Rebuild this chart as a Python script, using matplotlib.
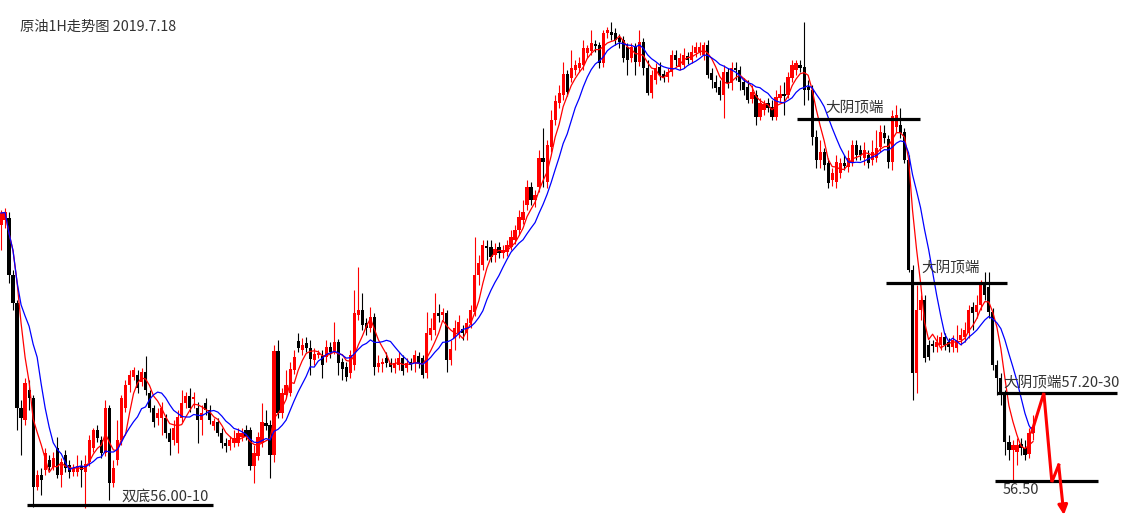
import matplotlib
matplotlib.use("Agg")
import matplotlib.pyplot as plt
import numpy as np
import pandas as pd

plt.rcParams['font.family'] = ['Noto Sans CJK SC', 'DejaVu Sans']

# hourly candles
opens = [
    58.80, 58.85, 58.87, 58.30, 58.02, 56.97, 56.85, 57.15, 57.07, 56.18,
    56.30, 56.35, 56.45, 56.38, 56.57, 56.30, 56.50, 56.40, 56.33, 56.33,
    56.39, 56.33, 56.43, 56.57, 56.75, 56.65, 56.52, 56.97, 56.22, 56.45,
    56.65, 56.97, 57.20, 57.28, 57.30, 57.23, 57.33, 57.12, 56.97, 56.87,
    56.87, 56.87, 56.72, 56.65, 56.62, 56.87, 57.02, 57.09, 57.06, 56.97,
    56.85, 57.02, 56.95, 56.79, 56.83, 56.72, 56.62, 56.59, 56.62, 56.62,
    56.68, 56.75, 56.75, 56.39, 56.49, 56.62, 56.82, 56.80, 56.50, 57.54,
    56.92, 57.10, 57.12, 57.35, 57.64, 57.55, 57.62, 57.57, 57.45, 57.50,
    57.49, 57.48, 57.58, 57.54, 57.63, 57.43, 57.38, 57.32, 57.40, 57.90,
    57.95, 57.82, 57.77, 57.88, 57.38, 57.41, 57.47, 57.42, 57.37, 57.40,
    57.47, 57.37, 57.43, 57.42, 57.49, 57.47, 57.32, 57.70, 57.75, 57.92,
    57.90, 57.92, 57.45, 57.67, 57.72, 57.76, 57.72, 57.82, 57.93, 58.30,
    58.40, 58.59, 58.58, 58.50, 58.58, 58.52, 58.53, 58.58, 58.65, 58.75,
    58.85, 59.00, 59.18, 59.05, 59.18, 59.47, 59.23, 59.58, 59.85, 60.02,
    60.10, 60.31, 60.27, 60.35, 60.37, 60.40, 60.52, 60.54, 60.61, 60.60,
    60.42, 60.72, 60.73, 60.72, 60.67, 60.65, 60.58, 60.47, 60.58, 60.43,
    60.63, 60.37, 60.12, 60.25, 60.38, 60.31, 60.28, 60.33, 60.50, 60.38,
    60.40, 60.49, 60.45, 60.52, 60.53, 60.50, 60.60, 60.32, 60.23, 60.18,
    60.10, 60.33, 60.22, 60.37, 60.35, 60.23, 60.18, 60.06, 60.10, 59.88,
    59.95, 60.02, 59.98, 59.88, 60.07, 60.11, 60.10, 60.27, 60.35, 60.40,
    60.38, 60.18, 60.15, 59.68, 59.45, 59.53, 59.42, 59.25, 59.23, 59.32,
    59.42, 59.38, 59.43, 59.60, 59.55, 59.47, 59.50, 59.45, 59.47, 59.58,
    59.72, 59.66, 59.43, 59.78, 59.80, 59.73, 59.45, 58.35, 57.32, 57.95,
    58.05, 57.60, 57.61, 57.58, 57.60, 57.68, 57.63, 57.58, 57.57, 57.65,
    57.68, 57.72, 57.98, 57.93, 58.00, 58.20, 58.18, 57.93, 57.40, 57.27,
    57.12, 56.63, 56.55, 56.53, 56.61, 56.57, 56.51, 56.72,
]
highs = [
    58.95, 58.97, 58.93, 58.35, 58.05, 57.05, 57.27, 57.25, 57.10, 56.35,
    56.37, 56.57, 56.50, 56.53, 56.68, 56.47, 56.55, 56.45, 56.41, 56.50,
    56.45, 56.50, 56.70, 56.77, 56.80, 56.69, 57.05, 57.00, 56.45, 56.85,
    57.10, 57.25, 57.35, 57.38, 57.35, 57.37, 57.49, 57.15, 57.00, 56.97,
    57.03, 56.91, 56.77, 56.85, 56.95, 57.15, 57.13, 57.17, 57.13, 57.03,
    57.00, 57.07, 57.00, 56.87, 56.87, 56.77, 56.67, 56.69, 56.75, 56.77,
    56.77, 56.80, 56.78, 56.60, 56.73, 57.02, 56.95, 56.85, 57.60, 57.65,
    57.17, 57.35, 57.43, 57.55, 57.72, 57.67, 57.68, 57.65, 57.57, 57.55,
    57.55, 57.65, 57.63, 57.83, 57.66, 57.47, 57.43, 57.55, 58.15, 58.38,
    58.12, 57.87, 57.98, 57.92, 57.50, 57.47, 57.53, 57.47, 57.47, 57.53,
    57.50, 57.47, 57.47, 57.55, 57.53, 57.50, 57.93, 57.87, 58.12, 58.01,
    57.97, 57.95, 57.65, 57.85, 57.90, 57.80, 57.87, 58.00, 58.68, 58.50,
    58.65, 58.65, 58.65, 58.62, 58.63, 58.60, 58.65, 58.75, 58.80, 58.95,
    59.05, 59.25, 59.23, 59.15, 59.55, 59.77, 59.65, 59.95, 60.10, 60.20,
    60.43, 60.35, 60.55, 60.45, 60.48, 60.65, 60.60, 60.75, 60.65, 60.63,
    60.75, 60.78, 60.83, 60.77, 60.71, 60.69, 60.62, 60.62, 60.62, 60.75,
    60.67, 60.45, 60.35, 60.42, 60.43, 60.35, 60.37, 60.55, 60.55, 60.52,
    60.57, 60.53, 60.60, 60.63, 60.63, 60.63, 60.65, 60.37, 60.30, 60.25,
    60.40, 60.37, 60.43, 60.43, 60.39, 60.27, 60.25, 60.20, 60.15, 60.07,
    60.05, 60.07, 60.05, 60.15, 60.20, 60.23, 60.33, 60.45, 60.45, 60.45,
    60.83, 60.25, 60.20, 59.75, 59.65, 59.57, 59.47, 59.37, 59.50, 59.47,
    59.50, 59.55, 59.65, 59.65, 59.60, 59.63, 59.55, 59.65, 59.75, 59.80,
    59.80, 59.70, 59.95, 60.00, 59.97, 59.77, 59.50, 58.40, 58.20, 58.10,
    58.10, 57.65, 57.65, 57.70, 57.73, 57.72, 57.67, 57.70, 57.80, 57.77,
    57.83, 58.00, 58.03, 58.10, 58.25, 58.33, 58.33, 57.97, 57.45, 57.32,
    57.15, 56.70, 56.65, 56.67, 56.67, 56.65, 56.77, 56.90,
]
lows = [
    58.55, 58.77, 58.22, 57.95, 56.75, 56.50, 56.80, 56.95, 55.98, 56.15,
    56.10, 56.30, 56.35, 56.35, 56.27, 56.18, 56.33, 56.27, 56.29, 56.29,
    56.18, 55.97, 56.39, 56.53, 56.63, 56.47, 56.49, 56.05, 56.18, 56.40,
    56.60, 56.93, 57.13, 57.25, 57.12, 57.19, 57.10, 56.93, 56.78, 56.80,
    56.70, 56.67, 56.50, 56.60, 56.52, 56.83, 56.97, 56.93, 56.97, 56.62,
    56.70, 56.90, 56.81, 56.75, 56.69, 56.57, 56.53, 56.55, 56.58, 56.59,
    56.64, 56.65, 56.35, 56.22, 56.45, 56.58, 56.75, 56.27, 56.43, 56.87,
    56.87, 57.07, 57.09, 57.31, 57.53, 57.50, 57.53, 57.30, 57.40, 57.47,
    57.27, 57.43, 57.47, 57.51, 57.30, 57.25, 57.24, 57.27, 57.35, 57.85,
    57.75, 57.70, 57.73, 57.30, 57.33, 57.33, 57.38, 57.33, 57.32, 57.35,
    57.30, 57.33, 57.35, 57.33, 57.37, 57.27, 57.27, 57.65, 57.70, 57.83,
    57.85, 57.33, 57.40, 57.55, 57.67, 57.65, 57.65, 57.77, 57.89, 58.20,
    58.35, 58.45, 58.43, 58.43, 58.47, 58.47, 58.49, 58.55, 58.61, 58.70,
    58.81, 58.95, 59.00, 58.98, 59.13, 59.18, 59.17, 59.53, 59.80, 59.97,
    60.05, 60.09, 60.23, 60.30, 60.33, 60.35, 60.47, 60.50, 60.53, 60.37,
    60.38, 60.67, 60.65, 60.60, 60.57, 60.43, 60.30, 60.43, 60.30, 60.39,
    60.30, 60.10, 60.07, 60.21, 60.25, 60.23, 60.23, 60.29, 60.39, 60.35,
    60.37, 60.41, 60.42, 60.48, 60.50, 60.45, 60.27, 60.17, 60.13, 60.05,
    59.87, 60.17, 60.15, 60.25, 60.15, 60.10, 60.02, 60.02, 59.80, 59.85,
    59.90, 59.93, 59.85, 59.85, 60.03, 59.90, 60.07, 60.23, 60.30, 60.33,
    60.00, 60.05, 59.60, 59.37, 59.37, 59.35, 59.17, 59.19, 59.17, 59.27,
    59.35, 59.33, 59.39, 59.45, 59.45, 59.40, 59.37, 59.40, 59.43, 59.53,
    59.62, 59.37, 59.35, 59.73, 59.67, 59.42, 58.33, 57.05, 57.12, 57.85,
    57.43, 57.45, 57.53, 57.53, 57.55, 57.55, 57.53, 57.53, 57.53, 57.60,
    57.63, 57.67, 57.75, 57.87, 57.95, 58.05, 57.87, 57.35, 57.10, 57.00,
    56.50, 56.45, 56.25, 56.40, 56.50, 56.45, 56.47, 56.65,
]
closes = [
    58.92, 58.93, 58.30, 58.02, 56.97, 56.87, 57.22, 57.07, 56.18, 56.30,
    56.25, 56.52, 56.38, 56.47, 56.30, 56.43, 56.37, 56.33, 56.37, 56.39,
    56.35, 56.41, 56.65, 56.75, 56.67, 56.52, 56.97, 56.22, 56.37, 56.65,
    57.07, 57.20, 57.30, 57.35, 57.17, 57.33, 57.15, 56.97, 56.83, 56.92,
    56.97, 56.72, 56.63, 56.77, 56.88, 57.02, 57.09, 56.97, 57.08, 56.85,
    56.92, 56.95, 56.85, 56.84, 56.72, 56.62, 56.59, 56.65, 56.67, 56.72,
    56.72, 56.68, 56.39, 56.52, 56.68, 56.83, 56.79, 56.50, 57.54, 56.92,
    57.12, 57.20, 57.36, 57.48, 57.57, 57.60, 57.57, 57.46, 57.51, 57.52,
    57.40, 57.58, 57.53, 57.63, 57.42, 57.36, 57.28, 57.50, 57.92, 57.95,
    57.80, 57.77, 57.88, 57.38, 57.42, 57.43, 57.42, 57.38, 57.42, 57.47,
    57.34, 57.42, 57.40, 57.50, 57.42, 57.30, 57.72, 57.77, 57.92, 57.89,
    57.93, 57.45, 57.56, 57.77, 57.83, 57.72, 57.82, 57.95, 58.30, 58.42,
    58.60, 58.57, 58.48, 58.56, 58.52, 58.55, 58.60, 58.68, 58.75, 58.88,
    58.93, 59.18, 59.05, 59.10, 59.47, 59.43, 59.60, 59.85, 60.04, 60.12,
    60.31, 60.13, 60.37, 60.40, 60.42, 60.57, 60.57, 60.62, 60.59, 60.42,
    60.72, 60.75, 60.70, 60.65, 60.63, 60.47, 60.45, 60.58, 60.43, 60.63,
    60.37, 60.12, 60.30, 60.37, 60.30, 60.27, 60.33, 60.50, 60.45, 60.47,
    60.50, 60.45, 60.53, 60.58, 60.58, 60.60, 60.30, 60.25, 60.17, 60.10,
    60.33, 60.22, 60.37, 60.35, 60.23, 60.15, 60.05, 60.13, 59.88, 60.02,
    60.01, 59.97, 59.88, 60.08, 60.11, 60.09, 60.28, 60.40, 60.42, 60.37,
    60.15, 60.15, 59.68, 59.45, 59.53, 59.40, 59.22, 59.32, 59.43, 59.42,
    59.39, 59.47, 59.60, 59.50, 59.50, 59.55, 59.42, 59.53, 59.57, 59.73,
    59.67, 59.43, 59.89, 59.90, 59.72, 59.45, 58.35, 57.32, 57.95, 58.05,
    57.47, 57.48, 57.59, 57.63, 57.68, 57.60, 57.58, 57.65, 57.65, 57.70,
    57.75, 57.95, 57.92, 58.00, 58.20, 58.10, 57.93, 57.40, 57.27, 57.12,
    56.63, 56.55, 56.60, 56.60, 56.57, 56.50, 56.72, 56.78,
]

# hand-drawn levels: price, start bar, end bar
levels = [56.00, 59.86, 58.22, 57.12, 56.24]
level_from = [6.5, 198.2, 220.4, 248.0, 247.5]
level_to = [52.8, 228.8, 250.5, 277.9, 273.2]
level_text = ['双底56.00-10', '大阴顶端', '大阴顶端', '大阴顶端57.20-30', '56.50']
text_x = [30.1, 205.2, 229.1, 249.5, 249.5]
text_y = [56.08, 59.98, 58.38, 57.23, 56.15]

# forecast zig-zag at the right
path_x = [256.7, 259.7, 261.7, 263.4, 264.7]
path_y = [56.73, 57.12, 56.23, 56.40, 55.90]

o = np.array(opens)
h = np.array(highs)
l = np.array(lows)
c = np.array(closes)
x = np.arange(len(c))
up = c >= o
col = np.where(up, '#ff0000', '#000000')

ma5 = pd.Series(c).rolling(5, min_periods=1).mean()
ma10 = pd.Series(c).rolling(10, min_periods=1).mean()

fig = plt.figure(figsize=(11.39, 5.18), dpi=100)
ax = fig.add_axes([0, 0, 1, 1])
ax.set_axis_off()

ax.vlines(x, l, h, colors=col, linewidth=0.8, zorder=1)
body = np.maximum(np.abs(c - o), 0.012)
ax.bar(x, body, bottom=np.minimum(o, c), width=0.8, color=col,
       linewidth=0, zorder=2)

ax.plot(x, ma5, color='#ff0000', lw=0.9, zorder=3)
ax.plot(x, ma10, color='#0000ff', lw=0.9, zorder=3)

for lv, a, b in zip(levels, level_from, level_to):
    ax.hlines(lv, a, b, colors='black', linewidth=2.3, zorder=4)
for t, tx, ty in zip(level_text, text_x, text_y):
    ax.text(tx, ty, t, fontsize=10.5, color='#333333', va='center', ha='left',
            zorder=5)

ax.plot(path_x[:-1], path_y[:-1], color='#ff0000', lw=2.2,
        solid_joinstyle='miter', zorder=5)
ax.annotate('', xy=(path_x[-1], path_y[-1]), xytext=(path_x[-2], path_y[-2]),
            arrowprops=dict(arrowstyle='-|>', color='#ff0000', lw=2.2,
                            mutation_scale=14, shrinkA=0, shrinkB=0),
            zorder=5)

ax.set_xlim(-0.25, 283.4)
ax.set_ylim(55.87, 61.05)

fig.text(20 / 1139, 1 - 27 / 518, '原油1H走势图 2019.7.18', fontsize=10.3,
         color='#333333', va='center', ha='left')

fig.savefig('out.png', dpi=100, facecolor='white')
